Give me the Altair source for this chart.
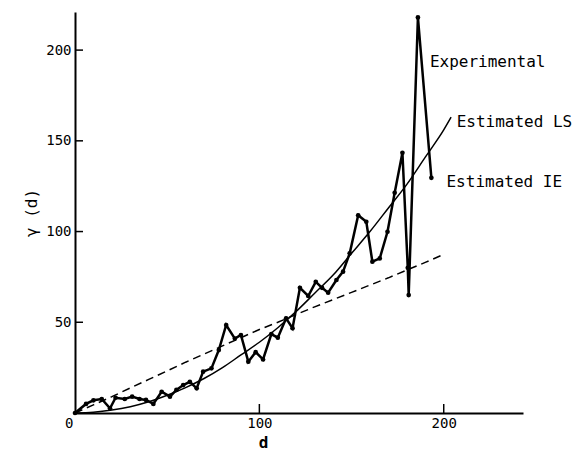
import altair as alt
import pandas as pd

# Experimental variogram points (d, gamma)
exp_d = [0, 6, 10, 14.5, 19, 22, 27, 31, 35, 38.5, 42.5, 47, 51.5, 55, 58.7,
         62.3, 66, 69.5, 74, 78, 82, 86.7, 90, 94, 98, 102, 106.5, 110, 114.5,
         118, 122, 126.5, 130.6, 134, 137.3, 141.8, 145.4, 149, 153.6, 158,
         161.3, 165.3, 169.5, 173.4, 177.6, 180.5, 181, 186, 193.3]
exp_g = [0, 5, 7, 7.7, 2.6, 8.4, 7.7, 9, 7.7, 7.2, 5, 11.7, 9, 12.7, 15.4,
         17.2, 13.6, 22.8, 24.6, 34.7, 48.5, 41, 43, 28.3, 33.5, 29.5, 43.5,
         41.5, 52.2, 46.7, 69, 64.5, 72.3, 69, 66.3, 73.3, 77.9, 88, 109, 105.4,
         83.4, 85.2, 99.9, 121.4, 143.4, 80, 65, 218, 129.6]

# Estimated LS curve
ls_d = [0, 10, 20, 30, 40, 50, 60, 70, 80, 90, 100, 110, 120, 130, 140, 150,
        160, 170, 180, 190, 200, 204]
ls_g = [0, 0.4, 1.6, 3.5, 6.2, 9.8, 14, 19, 25, 32, 39, 47, 56, 66, 76, 88,
        100, 113, 126, 141, 156, 163]

# Estimated IE curve
ie_d = [0, 10, 20, 30, 40, 50, 60, 70, 80, 90, 100, 110, 120, 130, 140, 150,
        160, 170, 180, 190, 199]
ie_g = [0, 4.5, 9, 13.8, 18.5, 23.2, 28, 32.5, 37, 41.5, 46, 50, 54.3, 58.5,
        62.5, 66.5, 70.5, 74.5, 78.8, 83, 87]

# Curve labels
lab_text = ["Experimental", "Estimated LS", "Estimated IE"]
lab_d = [192.5, 207, 201.5]
lab_g = [193.5, 160.3, 127.3]

x_ticks = [0, 100, 200]
y_ticks = [50, 100, 150, 200]

X_DOMAIN = [0, 243]
Y_DOMAIN = [0, 221]
W, H = 448, 401
FONT = "DejaVu Sans Mono"

exp_df = pd.DataFrame({"d": exp_d, "g": exp_g, "i": range(len(exp_d))})
ls_df = pd.DataFrame({"d": ls_d, "g": ls_g})
ie_df = pd.DataFrame({"d": ie_d, "g": ie_g})
lab_df = pd.DataFrame({"t": lab_text, "d": lab_d, "g": lab_g})
xt_df = pd.DataFrame({"d": [v for v in x_ticks if v > 0]})
yt_df = pd.DataFrame({"g": y_ticks})

xs = alt.Scale(domain=X_DOMAIN, nice=False, zero=False)
ys = alt.Scale(domain=Y_DOMAIN, nice=False, zero=False)

x_axis = alt.Axis(
    values=x_ticks, ticks=False, grid=False, title="d",
    labelAlign={"condition": {"test": "datum.value == 0", "value": "right"}, "value": "center"},
    labelOffset={"condition": {"test": "datum.value == 0", "value": -2}, "value": 0},
    labelPadding=3, labelFont=FONT, labelFontSize=14, labelColor="black",
    titleX=188, titlePadding=4, titleFont=FONT,
    titleFontWeight="bold", titleFontSize=16, titleColor="black",
    domainColor="black", domainWidth=2,
)
y_axis = alt.Axis(
    values=y_ticks, ticks=False, grid=False, title="γ (d)",
    labelPadding=4, labelFont=FONT, labelFontSize=14, labelColor="black",
    titlePadding=6, titleFont=FONT, titleFontWeight="normal", titleFontSize=16,
    titleColor="black", domainColor="black", domainWidth=2,
)

base_x = alt.X("d:Q", scale=xs, axis=x_axis)
base_y = alt.Y("g:Q", scale=ys, axis=y_axis)

exp_line = alt.Chart(exp_df).mark_line(
    color="black", strokeWidth=2.5,
    point=alt.OverlayMarkDef(filled=True, color="black", size=22),
).encode(x=base_x, y=base_y, order="i:Q")

ls_line = alt.Chart(ls_df).mark_line(color="black", strokeWidth=1.5, interpolate="monotone").encode(
    x=alt.X("d:Q", scale=xs), y=alt.Y("g:Q", scale=ys))

ie_line = alt.Chart(ie_df).mark_line(color="black", strokeWidth=1.5, strokeDash=[8, 5]).encode(
    x=alt.X("d:Q", scale=xs), y=alt.Y("g:Q", scale=ys))

labels = alt.Chart(lab_df).mark_text(
    align="left", baseline="middle", font=FONT, fontSize=16, color="black"
).encode(x=alt.X("d:Q", scale=xs), y=alt.Y("g:Q", scale=ys), text="t:N")

xticks = alt.Chart(xt_df).mark_rule(color="black", strokeWidth=1.5).encode(
    x=alt.X("d:Q", scale=xs), y=alt.value(H), y2=alt.value(H - 9))
yticks = alt.Chart(yt_df).mark_rule(color="black", strokeWidth=1.5).encode(
    y=alt.Y("g:Q", scale=ys), x=alt.value(0), x2=alt.value(8))

chart = alt.layer(ie_line, ls_line, exp_line, xticks, yticks, labels).properties(
    width=W, height=H,
    background="white",
    autosize=alt.AutoSizeParams(type="none"),
    padding={"left": 67, "top": 4, "right": 50, "bottom": 40},
).configure_view(strokeWidth=0, stroke="transparent")

chart.save("out.html", embed_options={"renderer": "svg", "actions": False})
